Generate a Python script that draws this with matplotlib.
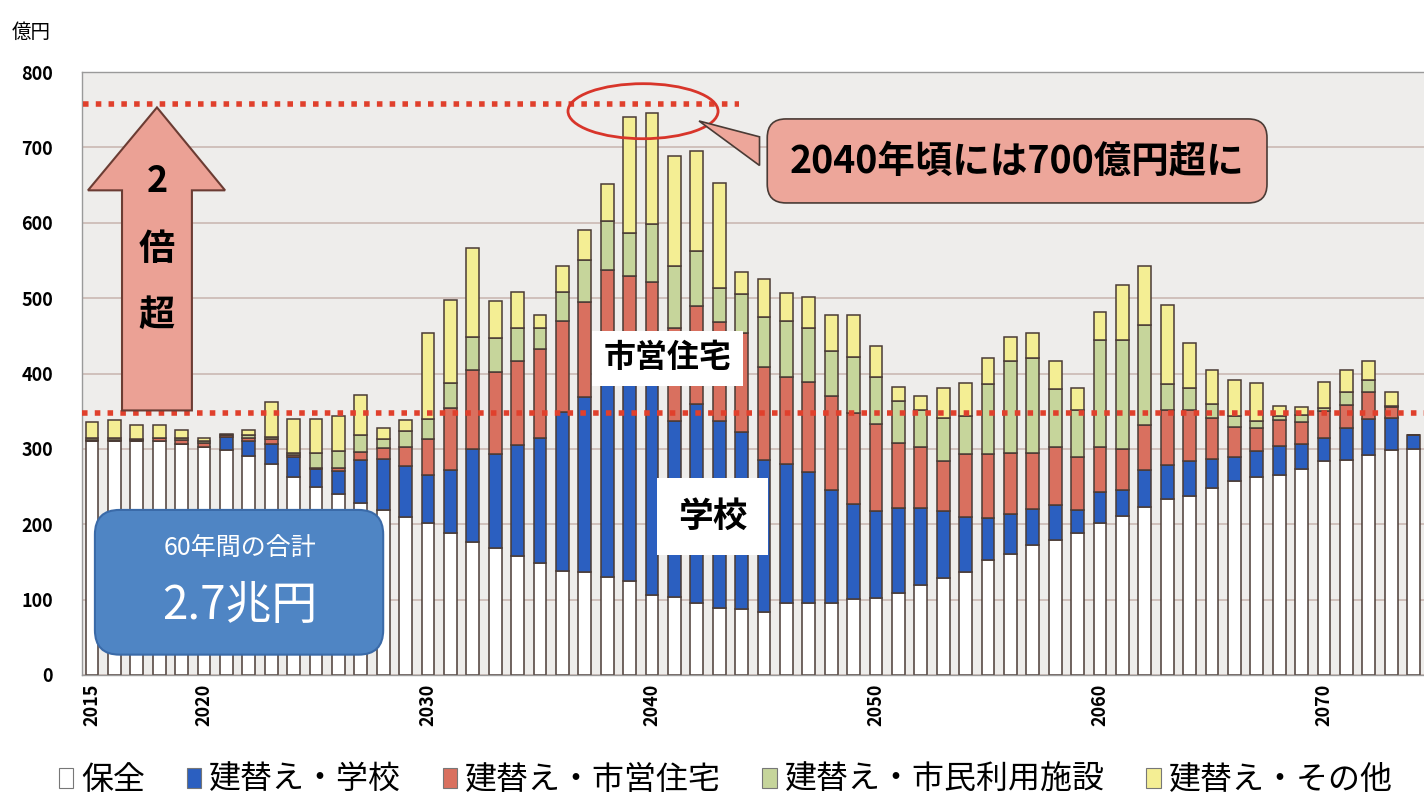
import matplotlib
matplotlib.use("Agg")
import matplotlib.pyplot as plt
import numpy as np
from matplotlib.patches import FancyBboxPatch, Polygon, Ellipse, Patch

plt.rcParams["font.family"] = ["Noto Sans CJK JP", "DejaVu Sans"]

# 年度 2015〜2074
years = list(range(2015, 2075))

# 保全
maintenance = [310, 310, 310, 311, 307, 302, 299, 290, 280, 263,
               250, 240, 228, 219, 209, 201, 188, 177, 168, 158,
               148, 138, 136, 130, 125, 106, 103, 96, 89, 88,
               84, 96, 96, 96, 101, 102, 109, 119, 129, 137,
               152, 160, 172, 179, 189, 201, 211, 223, 233, 238,
               248, 257, 263, 266, 273, 284, 285, 292, 298, 300]
# 建替え・学校
school = [0, 0, 0, 0, 0, 0, 17, 20, 27, 26,
          23, 31, 57, 68, 68, 64, 84, 123, 125, 147,
          167, 211, 233, 265, 275, 280, 234, 263, 248, 235,
          201, 184, 173, 150, 126, 115, 112, 102, 88, 72,
          56, 53, 48, 47, 30, 42, 34, 49, 46, 46,
          38, 32, 34, 38, 34, 31, 43, 47, 43, 18]
# 建替え・市営住宅
housing = [2, 2, 2, 3, 5, 6, 2, 5, 6, 3,
           2, 4, 11, 14, 26, 48, 82, 105, 109, 111,
           118, 120, 126, 142, 130, 135, 123, 130, 131, 131,
           123, 115, 120, 124, 120, 116, 87, 82, 67, 84,
           85, 81, 75, 77, 70, 60, 55, 60, 72, 67,
           55, 40, 31, 34, 29, 35, 30, 36, 14, 0]
# 建替え・市民利用施設
civic = [2, 2, 1, 1, 3, 3, 1, 4, 3, 2,
         19, 22, 22, 12, 21, 27, 34, 43, 45, 45,
         28, 39, 56, 65, 57, 78, 83, 73, 45, 51,
         67, 74, 71, 60, 75, 62, 56, 49, 57, 51,
         93, 122, 125, 77, 62, 142, 144, 133, 35, 30,
         18, 15, 9, 6, 9, 4, 17, 16, 2, 0]
# 建替え・その他
other = [22, 24, 19, 17, 10, 3, 1, 6, 46, 46,
         45, 46, 53, 15, 14, 114, 109, 118, 49, 47,
         16, 34, 40, 50, 153, 146, 145, 133, 140, 30,
         51, 38, 41, 48, 56, 42, 18, 18, 40, 43,
         35, 32, 34, 37, 30, 37, 74, 77, 105, 59,
         46, 48, 51, 13, 10, 35, 30, 25, 19, 0]

series = [maintenance, school, housing, civic, other]
labels = ["保全", "建替え・学校", "建替え・市営住宅", "建替え・市民利用施設", "建替え・その他"]
colors = ["#ffffff", "#2b5fc0", "#d9705f", "#c6d59b", "#f4ee94"]
edge = "#4a3b35"

fig = plt.figure(figsize=(14.24, 8.07), dpi=100)
ax = fig.add_axes([82 / 1424, 132 / 807, (1445 - 82) / 1424, 603 / 807])
ax.set_facecolor("#eeedeb")

x_per_px = 1 / 22.4
ax.set_xlim(2015 - 10 * x_per_px, 2015 + (1445 - 92) * x_per_px)
ax.set_ylim(0, 800)

bottom = np.zeros(len(years))
for vals, col in zip(series, colors):
    ax.bar(years, vals, bottom=bottom, width=0.58, color=col,
           edgecolor=edge, linewidth=1.1, zorder=2)
    bottom += np.array(vals)

ax.set_yticks(range(0, 801, 100))
ax.yaxis.grid(True, color="#cbb9b3", linewidth=1.2, zorder=0)
ax.set_axisbelow(True)
ax.tick_params(axis="y", length=0, pad=21, labelsize=13)
for t in ax.get_yticklabels():
    t.set_fontweight("bold")
ax.set_xticks([2015, 2020, 2030, 2040, 2050, 2060, 2070])
ax.set_xticklabels(["2015", "2020", "2030", "2040", "2050", "2060", "2070"],
                   rotation=90, fontsize=13, fontweight="bold")
ax.tick_params(axis="x", length=0, pad=6)
for s in ax.spines.values():
    s.set_color("#9a9a9a")
    s.set_linewidth(1)

fig.text(12 / 1424, 1 - 32 / 807, "億円", fontsize=14, va="center", ha="left")

# 赤い点線
ax.axhline(348, color="#e0402c", linewidth=4, linestyle=(0, (1, 1.3)), zorder=3)
ax.plot([2014.6, 2043.9], [757, 757], color="#e0402c", linewidth=4,
        linestyle=(0, (1, 1.3)), zorder=3)

# 2倍超 の矢印
arrow_pts = [(2016.34, 351), (2019.46, 351), (2019.46, 643), (2020.94, 643),
             (2017.9, 753), (2014.82, 643), (2016.34, 643)]
ax.add_patch(Polygon(arrow_pts, closed=True, facecolor="#eba195",
                     edgecolor="#6b3c33", linewidth=1.5, zorder=4))
for txt, yv in [("2", 655), ("倍", 565), ("超", 477)]:
    ax.text(2017.9, yv, txt, ha="center", va="center", fontsize=26,
            fontweight="bold", zorder=5)

# 楕円と吹き出し
ax.add_patch(Ellipse((2039.6, 748), 6.7, 73, fill=False, edgecolor="#d8352a",
                     linewidth=2, zorder=5))
ax.add_patch(Polygon([(2042.1, 735), (2044.8, 714), (2044.8, 676)], closed=True,
                     facecolor="#eda69a", edgecolor="#4a3b35", linewidth=1.2, zorder=5))
ax.text(2056.3, 682, "2040年頃には700億円超に", ha="center", va="center",
        fontsize=27, fontweight="bold", zorder=6,
        bbox=dict(boxstyle="round,pad=0.6,rounding_size=0.5", facecolor="#eda69a",
                  edgecolor="#4a3b35", linewidth=1.2))

# ラベル
ax.text(2040.7, 420, "市営住宅", ha="center", va="center", fontsize=23,
        fontweight="bold", zorder=6,
        bbox=dict(boxstyle="square,pad=0.35", facecolor="white", edgecolor="none"))
ax.text(2042.7, 210, "学校", ha="center", va="center", fontsize=25,
        fontweight="bold", zorder=6,
        bbox=dict(boxstyle="square,pad=0.6", facecolor="white", edgecolor="none"))

# 60年間の合計
ax.add_patch(FancyBboxPatch((2015.13, 27), 12.87, 192,
                            boxstyle="round,pad=0,rounding_size=1.1",
                            mutation_aspect=29.7, facecolor="#4f85c4",
                            edgecolor="#3a6aa8", linewidth=1.5, zorder=6))
ax.text(2021.6, 168, "60年間の合計", ha="center", va="center", fontsize=18,
        color="white", zorder=7)
ax.text(2021.6, 92, "2.7兆円", ha="center", va="center", fontsize=33,
        color="white", zorder=7)

handles = [Patch(facecolor=c, edgecolor="#777777", linewidth=0.8) for c in colors]
fig.legend(handles, labels, loc="center left", bbox_to_anchor=(30 / 1424, 1 - 780 / 807),
           ncol=5, frameon=False, fontsize=23, handlelength=0.45, handleheight=0.6,
           handletextpad=0.25, columnspacing=1.3)

fig.savefig("out.png", dpi=100, facecolor="white")
